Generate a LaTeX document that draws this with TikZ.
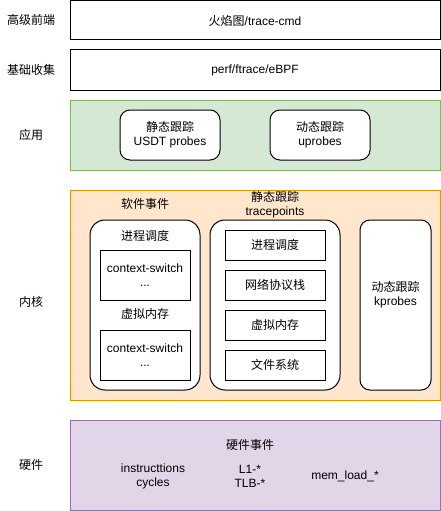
\documentclass[tikz,border=0pt]{standalone}
\usepackage{fontspec}
\setmainfont{Liberation Sans}
\newfontfamily\cjk{Noto Sans CJK SC}
\definecolor{gfill}{HTML}{D5E8D4}
\definecolor{gline}{HTML}{82B366}
\definecolor{ofill}{HTML}{FFE6CC}
\definecolor{oline}{HTML}{D79B00}
\definecolor{pfill}{HTML}{E1D5E7}
\definecolor{pline}{HTML}{9673A6}
\begin{document}
\begin{tikzpicture}[x=1pt,y=-1pt,font=\fontsize{12}{14}\selectfont,
  box/.style={draw,line width=1pt,inner sep=0pt,outer sep=0pt,align=center},
  rbox/.style={box,fill=white,rounded corners=10pt},
  wbox/.style={box,fill=white},
  lbl/.style={inner sep=0pt,align=center}]
\useasboundingbox (0,0) rectangle (441,511);
% rows
\node[box,minimum width=370,minimum height=39] (front) at (255,20.5) {{\cjk 火焰图}/trace-cmd};
\node[box,minimum width=370,minimum height=40] (collect) at (255,70) {perf/ftrace/eBPF};
\node[lbl] (lfront) at (31,20) {\cjk 高级前端};
\node[lbl] (lcollect) at (31,70) {\cjk 基础收集};
% application
\node[box,fill=gfill,draw=gline,minimum width=370,minimum height=70] (app) at (255,135) {};
\node[lbl] (lapp) at (31,135) {\cjk 应用};
\node[rbox,minimum width=100,minimum height=50] (usdt) at (170,135) {{\cjk 静态跟踪}\\USDT probes};
\node[rbox,minimum width=100,minimum height=50] (uprobes) at (320,135) {{\cjk 动态跟踪}\\uprobes};
% kernel
\node[box,fill=ofill,draw=oline,minimum width=370,minimum height=210] (kernel) at (255,295) {};
\node[lbl] (lkernel) at (31,302) {\cjk 内核};
\node[rbox,rounded corners=15pt,minimum width=110,minimum height=170] (sw) at (145,305) {};
\node[lbl] (swt) at (145,204) {\cjk 软件事件};
\node[lbl] (sw1) at (145,236) {\cjk 进程调度};
\node[wbox,minimum width=90,minimum height=50] (cs1) at (145,275) {context-switch\\...};
\node[lbl] (sw2) at (145,314) {\cjk 虚拟内存};
\node[wbox,minimum width=90,minimum height=50] (cs2) at (145,355) {context-switch\\...};
\node[rbox,rounded corners=15pt,minimum width=130,minimum height=170] (tp) at (275,305) {};
\node[lbl] (tpt) at (275,205) {{\cjk 静态跟踪}\\tracepoints};
\node[wbox,minimum width=100,minimum height=30] (tp1) at (275,245) {\cjk 进程调度};
\node[wbox,minimum width=100,minimum height=30] (tp2) at (275,285) {\cjk 网络协议栈};
\node[wbox,minimum width=100,minimum height=30] (tp3) at (275,325) {\cjk 虚拟内存};
\node[wbox,minimum width=100,minimum height=30] (tp4) at (275,365) {\cjk 文件系统};
\node[rbox,minimum width=71,minimum height=170] (kp) at (395.5,305) {};
\node[lbl] (kpt) at (395.5,295) {{\cjk 动态跟踪}\\kprobes};
% hardware
\node[box,fill=pfill,draw=pline,minimum width=370,minimum height=90] (hw) at (255,465) {};
\node[lbl] (lhw) at (31,465) {\cjk 硬件};
\node[lbl] (hwt) at (250,445) {\cjk 硬件事件};
\node[lbl] (hw1) at (153,476) {instructtions\\cycles};
\node[lbl] (hw2) at (250,476) {L1-*\\TLB-*};
\node[lbl] (hw3) at (345,476) {mem\_load\_*};
\end{tikzpicture}
\end{document}
